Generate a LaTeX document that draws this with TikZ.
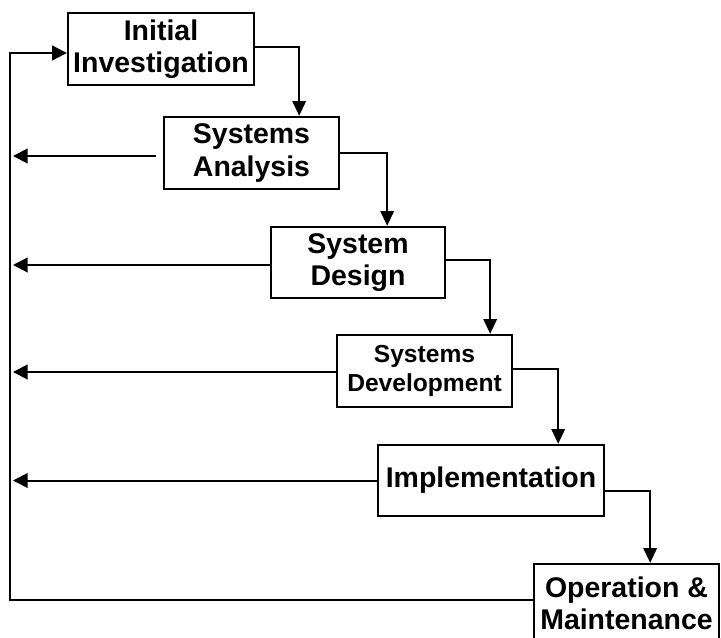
\documentclass[tikz,border=0pt]{standalone}
\usepackage{fontspec}
\setmainfont{Liberation Sans}
\usetikzlibrary{arrows.meta, positioning}

\begin{document}
\begin{tikzpicture}[
  every node/.style={align=center},
  % Phase boxes
  phase/.style={rectangle, draw=black, line width=2pt, fill=white, minimum width=5.25cm, minimum height=2.16cm, inner sep=0pt, font=\bfseries\fontsize{24.3}{27.5}\selectfont},
  % Forward connectors
  flow/.style={line width=1.7pt, draw=black, -{Triangle[length=0.44cm, width=0.4cm]}},
  % Feedback connectors
  back/.style={line width=1.7pt, draw=black, -{Triangle[length=0.44cm, width=0.44cm]}}
]

\useasboundingbox (0, 0) rectangle (21.63, -19.11);

% === Phases ===
\node[phase, minimum width=5.58cm] (ii) at (4.83, -1.47) {Initial\\Investigation};
\node[phase] (sa) at (7.545, -4.59) {Systems\\Analysis};
\node[phase, minimum width=5.22cm, minimum height=2.13cm] (sd) at (10.74, -7.875) {System\\Design};
\node[phase, font=\bfseries\fontsize{21}{25.5}\selectfont] (sdev) at (12.735, -11.13) {Systems\\Development};
\node[phase, minimum width=6.78cm, minimum height=2.13cm] (im) at (14.73, -14.415) {Implementation};
\node[phase, minimum width=5.55cm, minimum height=2.34cm] (om) at (18.795, -18.09) {Operation \&\\Maintenance};

% === Forward steps ===
\draw[flow] ([yshift=0.06cm]ii.east) -- ++(1.32, 0) coordinate (k1) -- (k1 |- sa.north);
\draw[flow] (sa.east) -- ++(1.41, 0) coordinate (k2) -- (k2 |- sd.north);
\draw[flow] ([yshift=0.07cm]sd.east) -- ++(1.32, 0) coordinate (k3) -- (k3 |- sdev.north);
\draw[flow] ([yshift=0.06cm]sdev.east) -- ++(1.35, 0) coordinate (k4) -- (k4 |- im.north);
\draw[flow] ([yshift=-0.315cm]im.east) -- ++(1.35, 0) coordinate (k5) -- (k5 |- om.north);

% === Feedback to earlier phases ===
\coordinate (tip) at (0.39, 0);
\draw[back, shorten <=0.2cm] ([yshift=-0.09cm]sa.west) coordinate (f2) -- (tip |- f2);
\draw[back] ([yshift=-0.075cm]sd.west) coordinate (f3) -- (tip |- f3);
\draw[back] ([yshift=-0.03cm]sdev.west) coordinate (f4) -- (tip |- f4);
\draw[back] (im.west) -- (tip |- im.west);

% Return loop
\coordinate (rail) at (0.29, -1.59);
\draw[back] ([yshift=0.09cm]om.west) -| (rail) -- (ii.west |- rail);

\end{tikzpicture}
\end{document}
